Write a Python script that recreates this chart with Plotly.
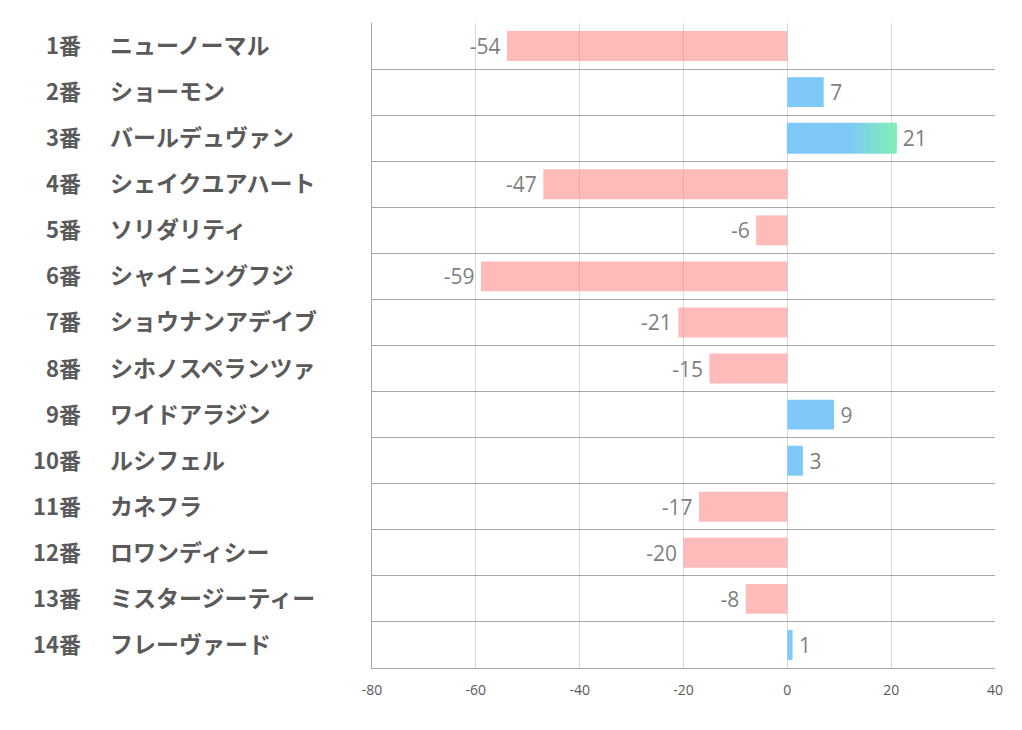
import plotly.graph_objects as go

numbers = ["1番", "2番", "3番", "4番", "5番", "6番", "7番", "8番", "9番", "10番", "11番", "12番", "13番", "14番"]
names = ["ニューノーマル", "ショーモン", "バールデュヴァン", "シェイクユアハート", "ソリダリティ",
         "シャイニングフジ", "ショウナンアデイブ", "シホノスペランツァ", "ワイドアラジン", "ルシフェル",
         "カネフラ", "ロワンディシー", "ミスタージーティー", "フレーヴァード"]
values = [-54, 7, 21, -47, -6, -59, -21, -15, 9, 3, -17, -20, -8, 1]
x_ticks = [-80, -60, -40, -20, 0, 20, 40]

# page body has an 8px margin
W, H = 1006, 714
PX0, PX1, PY0, PY1 = 372, 995, 23, 668  # plot area in screen px
L, T = PX0 - 8, PY0 - 8
R, B = W - (PX1 - 8), H - (PY1 - 8)
pw = PX1 - PX0

POS = "#7ec8fa"
NEG = "rgba(255,140,140,0.6)"
GREEN = (128, 240, 180)
BLUE = (126, 200, 250)
LABEL_FONT = dict(size=21, color="#7f7f7f", family="Open Sans, Noto Sans CJK JP")


def label(v):
    return "\u2009" + str(v) if v >= 0 else str(v) + "\u2009"


ys = list(range(len(values)))
fig = go.Figure()

imax = max(range(len(values)), key=lambda i: values[i])

main_x = [v if i != imax else 0 for i, v in enumerate(values)]
colors = [POS if v >= 0 else NEG for v in values]
fig.add_trace(go.Bar(
    x=main_x, y=ys, orientation="h", width=0.65,
    marker=dict(color=colors, line=dict(width=0)),
    text=[label(v) if i != imax else "" for i, v in enumerate(values)],
    textposition="outside", cliponaxis=False,
    textfont=LABEL_FONT, hoverinfo="skip",
))

# gradient fill for the largest bar
n = 24
vmax = values[imax]
start = 0.55
for k in range(n):
    f = (k + 0.5) / n
    t = 0 if f < start else (f - start) / (1 - start)
    c = "rgb(%d,%d,%d)" % tuple(int(BLUE[j] + (GREEN[j] - BLUE[j]) * t) for j in range(3))
    last = k == n - 1
    fig.add_trace(go.Bar(
        x=[vmax / n], y=[imax], orientation="h", width=0.65,
        base=[vmax * k / n],
        marker=dict(color=c, line=dict(width=1, color=c)),
        text=[label(vmax)] if last else [""],
        textposition="outside", cliponaxis=False,
        textfont=LABEL_FONT, hoverinfo="skip",
    ))

annotations = []
for i in ys:
    annotations.append(dict(
        xref="paper", yref="y", x=(83 - PX0) / pw, y=i, text="<b>" + numbers[i] + "</b>",
        xanchor="right", yanchor="middle", showarrow=False, yshift=2,
        font=dict(size=22, color="#5a5a5a", family="Noto Sans CJK JP"),
    ))
    annotations.append(dict(
        xref="paper", yref="y", x=(108 - PX0) / pw, y=i, text="<b>" + names[i] + "</b>",
        xanchor="left", yanchor="middle", showarrow=False, yshift=2,
        font=dict(size=23, color="#5a5a5a", family="Noto Sans CJK JP"),
    ))

fig.update_layout(
    width=W, height=H,
    margin=dict(l=L, r=R, t=T, b=B, pad=0),
    paper_bgcolor="white", plot_bgcolor="white",
    showlegend=False, barmode="overlay",
    annotations=annotations,
    xaxis=dict(range=[-80, 40], tickvals=x_ticks, ticktext=[str(t) for t in x_ticks],
               showgrid=True, gridcolor="#d9d9d9", gridwidth=1, zeroline=False,
               showline=True, linecolor="#a6a6a6", linewidth=1,
               ticks="", ticklen=0, ticklabelstandoff=9,
               tickfont=dict(size=14, color="#595959", family="Open Sans, Noto Sans"),
               fixedrange=True),
    yaxis=dict(range=[len(values) - 0.5, -0.5], tickvals=[i - 0.5 for i in range(len(values) + 1)],
               showticklabels=False, showgrid=True, gridcolor="#a6a6a6", gridwidth=1,
               zeroline=False, showline=True, linecolor="#a6a6a6", linewidth=1,
               ticks="", fixedrange=True),
)

fig.write_html("out.html")
